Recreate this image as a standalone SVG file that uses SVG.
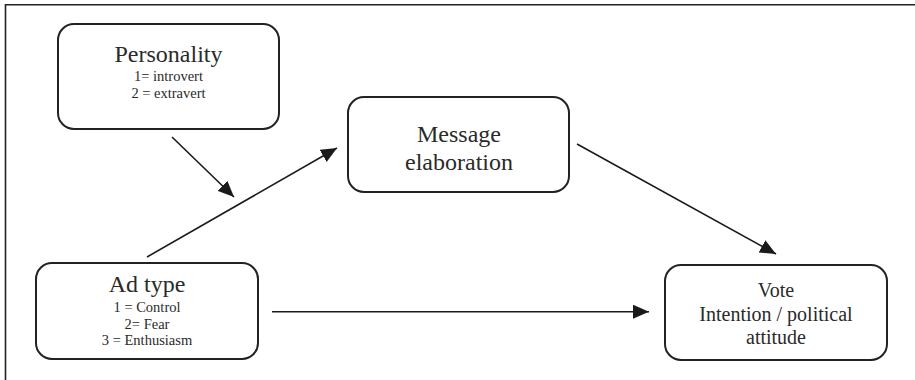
<svg xmlns="http://www.w3.org/2000/svg" width="915" height="380" viewBox="0 0 915 380">
<style>
.box{fill:#fff;stroke:#222;stroke-width:2}
.t{font-family:"Liberation Serif","Times New Roman",serif;fill:#2a2a2a;text-anchor:middle}
.big{font-size:24px}
.mid{font-size:20px}
.sm{font-size:14.5px}
.edge{stroke:#1a1a1a;stroke-width:1.6;fill:none;marker-end:url(#ah)}
.frame{stroke:#222;stroke-width:1.6;fill:none}
</style>
<defs>
<marker id="ah" viewBox="0 0 16 14" refX="16" refY="7" markerWidth="16" markerHeight="14" markerUnits="userSpaceOnUse" orient="auto">
<path d="M0,0 L16,7 L0,14 Z" fill="#1a1a1a"/>
</marker>
</defs>
<rect width="915" height="380" fill="#fff"/>
<path class="frame" d="M5.5,380 L5.5,4.8 L915,4.8"/>
<g id="personality">
<rect class="box" x="58" y="24" width="221" height="105" rx="16"/>
<text class="t big" x="168.5" y="62">Personality</text>
<text class="t sm" x="168.5" y="81">1= introvert</text>
<text class="t sm" x="168.5" y="98">2 = extravert</text>
</g>
<g id="adtype">
<rect class="box" x="36" y="263" width="222" height="96" rx="16"/>
<text class="t big" x="147" y="292">Ad type</text>
<text class="t sm" x="147" y="312">1 = Control</text>
<text class="t sm" x="147" y="328.5">2= Fear</text>
<text class="t sm" x="147" y="345">3 = Enthusiasm</text>
</g>
<g id="message">
<rect class="box" x="348" y="97" width="221" height="95" rx="16"/>
<text class="t big" x="459" y="142">Message</text>
<text class="t big" x="459" y="170">elaboration</text>
</g>
<g id="vote">
<rect class="box" x="665" y="265" width="222" height="95" rx="16"/>
<text class="t mid" x="776" y="297">Vote</text>
<text class="t mid" x="776" y="321">Intention / political</text>
<text class="t mid" x="776" y="344">attitude</text>
</g>
<g id="connectors">
<line class="edge" x1="172" y1="137" x2="234" y2="197"/>
<line class="edge" x1="147" y1="257" x2="337" y2="148"/>
<line class="edge" x1="577" y1="144" x2="776" y2="254"/>
<line class="edge" x1="272" y1="311.7" x2="649" y2="311.7"/>
</g>
</svg>
